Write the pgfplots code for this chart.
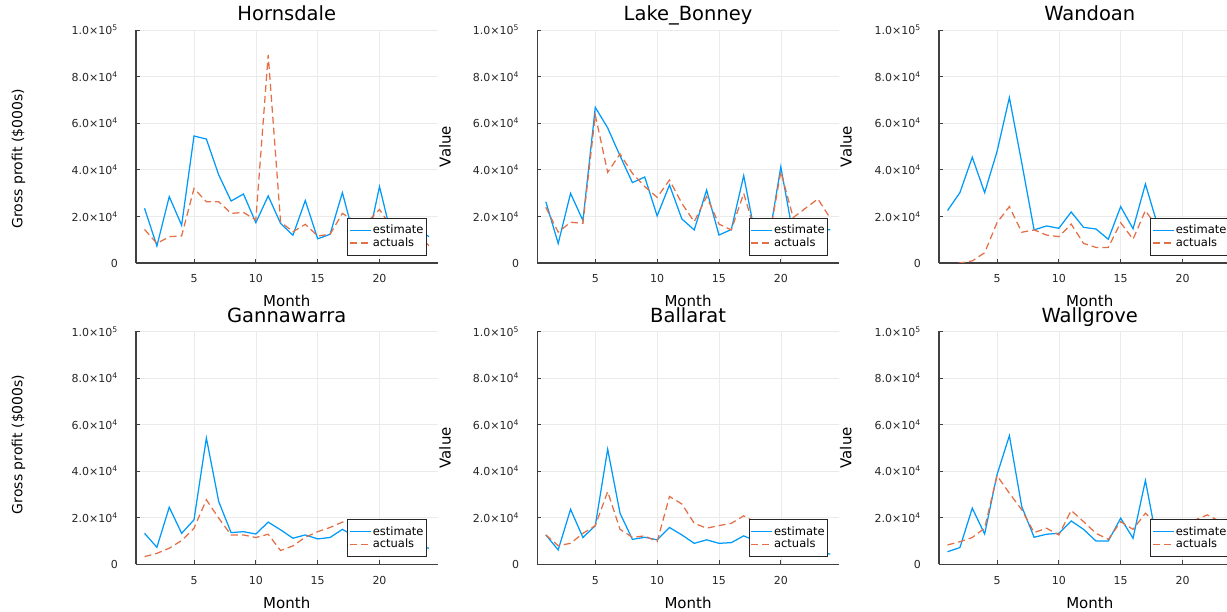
\documentclass[border=0pt]{standalone}
\usepackage{fontspec}
\setmainfont{DejaVu Sans}
\usepackage{pgfplots}
\usepackage{pgfplotstable}
\pgfplotsset{compat=1.18}

\definecolor{est}{HTML}{009AFA}
\definecolor{act}{HTML}{E36F47}

\pgfplotstableread{
x est act
1 23500 14400
2 7300 8400
3 28500 11300
4 16200 11600
5 54500 32000
6 53200 26300
7 37800 26300
8 26600 21300
9 29600 21700
10 17300 18500
11 28800 89300
12 17000 17700
13 11900 13400
14 26800 16600
15 10400 11600
16 12300 12300
17 30200 21300
18 10000 18000
19 8000 17500
20 32800 23000
21 11000 15000
22 14000 12000
23 15000 13000
24 11300 7400
}\hornsdale

\pgfplotstableread{
x est act
1 26300 23900
2 8400 13200
3 29900 17500
4 18200 17000
5 66800 63500
6 58000 38900
7 46000 46800
8 34500 38500
9 36900 32800
10 20200 28200
11 33500 35600
12 18900 25600
13 14200 17700
14 31300 28500
15 12000 16700
16 14400 14200
17 37500 29900
18 10000 12000
19 9000 9000
20 41300 39200
21 12000 19500
22 13000 23500
23 15000 27500
24 14200 19200
}\lakebonney

\pgfplotstableread{
x est act
1 22500 -1500
2 30200 0
3 45400 900
4 30200 4400
5 47800 17300
6 71000 24200
7 43000 13200
8 14200 14200
9 15900 12000
10 14900 11300
11 21900 16700
12 15300 8400
13 14600 6700
14 10200 6700
15 24200 17300
16 14700 10200
17 33900 22500
18 16000 15000
19 15000 14000
20 14000 13000
21 17000 14000
22 15000 12000
23 16000 13000
24 14000 12000
}\wandoan

\pgfplotstableread{
x est act
1 13300 3300
2 7300 4700
3 24500 6900
4 13300 10200
5 19100 15500
6 54200 27700
7 26900 19800
8 13600 12600
9 14000 12600
10 13000 11500
11 18100 12900
12 14800 5900
13 11200 7900
14 12600 11600
15 10900 14000
16 11500 15800
17 15000 18100
18 12000 18500
19 10000 17000
20 9000 14000
21 8000 10000
22 9000 8000
23 8000 7000
24 6900 5900
}\gannawarra

\pgfplotstableread{
x est act
1 12600 12600
2 6200 8000
3 23600 9000
4 11500 13300
5 16600 16600
6 49400 31200
7 21900 15000
8 10700 11600
9 11600 12200
10 10500 9700
11 15800 29100
12 12600 25900
13 9000 17600
14 10500 15500
15 9000 16600
16 9300 17600
17 12200 20800
18 10000 18000
19 9000 17000
20 8000 15000
21 7000 12000
22 6000 10000
23 5000 8000
24 4400 7000
}\ballarat

\pgfplotstableread{
x est act
1 5400 8300
2 7200 9700
3 24100 11500
4 13000 15500
5 38400 38100
6 55200 30500
7 24800 23400
8 11600 13600
9 12900 15500
10 13300 12600
11 18600 23100
12 15000 18300
13 10000 13300
14 10000 10700
15 19800 18300
16 11200 15000
17 36000 21900
18 8000 17000
19 12000 17500
20 15000 18500
21 14000 19000
22 13000 21200
23 12000 18500
24 12000 17000
}\wallgrove

\pgfplotsset{
  panel/.style={
    scale only axis, width=301.5pt, height=233pt,
    anchor=south west,
    xmin=0.31, xmax=24.69, ymin=0, ymax=100000,
    axis lines*=left,
    axis line style={black!75, line width=1.1pt},
    xtick={5,10,15,20}, xticklabels={5,10,15,20},
    ytick={0,20000,40000,60000,80000,100000},
    yticklabels={0,{2.0×10\textsuperscript{4}},{4.0×10\textsuperscript{4}},{6.0×10\textsuperscript{4}},{8.0×10\textsuperscript{4}},{1.0×10\textsuperscript{5}}},
    scaled y ticks=false, scaled x ticks=false,
    /pgf/number format/assume math mode=true,
    grid=major,
    major grid style={black!8, line width=0.6pt},
    tick align=inside, major tick length=4pt,
    tick style={black!75, line width=0.8pt},
    tick label style={font=\fontsize{11}{13}\selectfont, text=black!85},
    xticklabel style={anchor=base, yshift=-20pt, inner sep=0pt},
    yticklabel style={anchor=east, xshift=-18pt, inner sep=0pt},
    every axis title shift=0pt,
    title style={font=\fontsize{19.5}{22}\selectfont, at={(axis description cs:0.5,1)}, anchor=base, yshift=9pt},
    xlabel={Month},
    xlabel style={font=\fontsize{15}{17}\selectfont, at={(axis description cs:0.5,0)}, anchor=base, yshift=-44pt},
    ylabel style={font=\fontsize{15}{17}\selectfont, anchor=center, rotate=0},
    legend style={at={(1,0)}, anchor=south east, xshift=-11pt, yshift=7.3pt,
      draw=black!85, line width=0.8pt, fill=white,
      font=\fontsize{11.5}{13}\selectfont, inner xsep=1.5pt, inner ysep=6pt,
      row sep=0pt, nodes={inner sep=1.2pt}},
    legend cell align=left,
    legend image code/.code={\draw[#1,line width=1.25pt] (0pt,0pt) -- (21pt,0pt);},
  },
  estl/.style={color=est, line width=1.25pt, no markers},
  actl/.style={color=act, line width=1.25pt, no markers, dash pattern=on 7pt off 4pt},
}

\begin{document}
\begin{tikzpicture}[x=1pt,y=1pt]
\begin{scope}
\clip (0,0) rectangle (1227,611);
% Row 1
\begin{axis}[panel, at={(136pt,348pt)}, title={Hornsdale},
  ylabel={\fontsize{14}{16}\selectfont Gross profit (\$000s)},
  ylabel style={at={(axis description cs:-0.39,0.447)}}]
\addplot[estl] table[x=x,y=est]{\hornsdale};
\addlegendentry{estimate}
\addplot[actl] table[x=x,y=act]{\hornsdale};
\addlegendentry{actuals}
\end{axis}
\begin{axis}[panel, at={(537.3pt,348pt)}, title={Lake\_Bonney},
  ylabel={Value}, ylabel style={at={(axis description cs:-0.306,0.5)}}]
\addplot[estl] table[x=x,y=est]{\lakebonney};
\addlegendentry{estimate}
\addplot[actl] table[x=x,y=act]{\lakebonney};
\addlegendentry{actuals}
\end{axis}
\begin{axis}[panel, at={(939pt,348pt)}, title={Wandoan},
  ylabel={Value}, ylabel style={at={(axis description cs:-0.308,0.5)}}]
\addplot[estl] table[x=x,y=est]{\wandoan};
\addlegendentry{estimate}
\addplot[actl] table[x=x,y=act]{\wandoan};
\addlegendentry{actuals}
\end{axis}
% Row 2
\begin{axis}[panel, at={(136pt,46.7pt)}, title={Gannawarra},
  ylabel={\fontsize{14}{16}\selectfont Gross profit (\$000s)},
  ylabel style={at={(axis description cs:-0.39,0.515)}}]
\addplot[estl] table[x=x,y=est]{\gannawarra};
\addlegendentry{estimate}
\addplot[actl] table[x=x,y=act]{\gannawarra};
\addlegendentry{actuals}
\end{axis}
\begin{axis}[panel, at={(537.3pt,46.7pt)}, title={Ballarat},
  ylabel={Value}, ylabel style={at={(axis description cs:-0.306,0.5)}}]
\addplot[estl] table[x=x,y=est]{\ballarat};
\addlegendentry{estimate}
\addplot[actl] table[x=x,y=act]{\ballarat};
\addlegendentry{actuals}
\end{axis}
\begin{axis}[panel, at={(939pt,46.7pt)}, title={Wallgrove},
  ylabel={Value}, ylabel style={at={(axis description cs:-0.309,0.5)}}]
\addplot[estl] table[x=x,y=est]{\wallgrove};
\addlegendentry{estimate}
\addplot[actl] table[x=x,y=act]{\wallgrove};
\addlegendentry{actuals}
\end{axis}
\end{scope}
\pgfresetboundingbox
\path[use as bounding box] (0,0) rectangle (1227,611);
\end{tikzpicture}
\end{document}
